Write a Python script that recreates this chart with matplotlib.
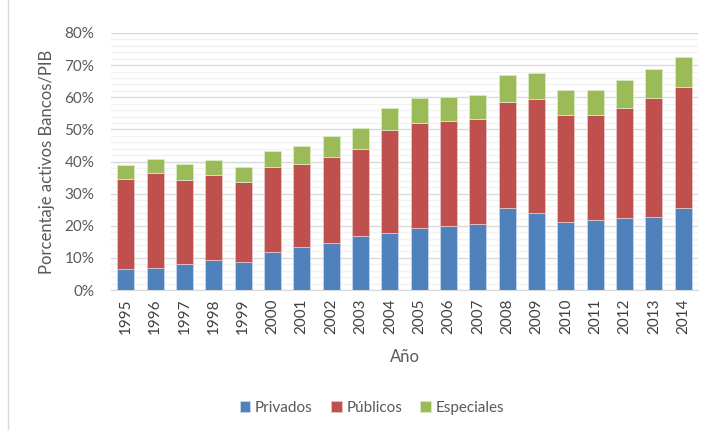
import matplotlib.pyplot as plt
import numpy as np
from matplotlib.ticker import MultipleLocator, PercentFormatter
from matplotlib.lines import Line2D

# Datos (porcentaje del PIB)
anios = ['1995', '1996', '1997', '1998', '1999', '2000', '2001', '2002', '2003', '2004',
         '2005', '2006', '2007', '2008', '2009', '2010', '2011', '2012', '2013', '2014']
privados = [6.4, 7.0, 8.2, 9.4, 8.8, 11.7, 13.4, 14.6, 16.8, 17.8,
            19.4, 20.0, 20.6, 25.6, 24.0, 21.2, 21.8, 22.3, 22.6, 25.6]
publicos = [28.0, 29.5, 25.9, 26.5, 24.7, 26.5, 25.7, 26.9, 27.0, 31.9,
            32.6, 32.6, 32.7, 32.9, 35.4, 33.2, 32.6, 34.4, 37.1, 37.6]
especiales = [4.4, 4.3, 5.0, 4.6, 4.7, 5.0, 5.6, 6.4, 6.5, 6.8,
              7.7, 7.4, 7.5, 8.5, 8.3, 7.9, 7.9, 8.8, 9.0, 9.4]

plt.rcParams['font.family'] = ['Lato', 'DejaVu Sans']

colores = {'Privados': '#4F81BD', 'Públicos': '#C0504D', 'Especiales': '#9BBB59'}

fig = plt.figure(figsize=(7.09, 4.30), dpi=100)
ax = fig.add_axes([111 / 709, 1 - 290 / 430, 587 / 709, 257 / 430])

x = np.arange(len(anios))
priv = np.array(privados) / 100
pub = np.array(publicos) / 100
esp = np.array(especiales) / 100

ancho = 0.58
ax.bar(x, priv, ancho, color=colores['Privados'], edgecolor='#C9D6E8', linewidth=0.6,
       label='Privados', zorder=3)
ax.bar(x, pub, ancho, bottom=priv, color=colores['Públicos'], edgecolor='#E6C3C2',
       linewidth=0.6, label='Públicos', zorder=3)
ax.bar(x, esp, ancho, bottom=priv + pub, color=colores['Especiales'], edgecolor='#DCE8C6',
       linewidth=0.6, label='Especiales', zorder=3)

ax.set_xlim(-0.5, len(anios) - 0.5)
ax.set_ylim(0, 0.8)
ax.yaxis.set_major_locator(MultipleLocator(0.1))
ax.yaxis.set_minor_locator(MultipleLocator(0.02))
ax.yaxis.set_major_formatter(PercentFormatter(1.0, decimals=0))
ax.grid(axis='y', which='major', color='#D9D9D9', linewidth=1.0, zorder=0)
ax.grid(axis='y', which='minor', color='#F2F2F2', linewidth=1.0, zorder=0)

ax.set_xticks(x)
ax.set_xticklabels(anios, rotation=90, fontsize=11, color='#404040')
ax.tick_params(axis='y', labelsize=11, labelcolor='#595959', length=0, which='both', pad=12)
ax.tick_params(axis='x', length=0, pad=6)

for lado in ['top', 'right', 'left']:
    ax.spines[lado].set_visible(False)
ax.spines['bottom'].set_color('#D9D9D9')

fig.text(405 / 709, 1 - 357 / 430, 'Año', ha='center', va='center', fontsize=12, color='#595959')
fig.text(47 / 709, 1 - 162 / 430, 'Porcentaje activos Bancos/PIB', rotation=90,
         ha='center', va='center', fontsize=12, color='#595959')

fig.legend(loc='center', bbox_to_anchor=(372 / 709, 1 - 408 / 430), ncol=3, frameon=False,
           fontsize=11, handlelength=0.7, handleheight=0.7, handletextpad=0.3,
           columnspacing=1.2, labelcolor='#595959')

# borde izquierdo del marco del gráfico
fig.add_artist(Line2D([8 / 709, 8 / 709], [0, 1], color='#D9D9D9', linewidth=1))

plt.savefig('out.png', dpi=100)
